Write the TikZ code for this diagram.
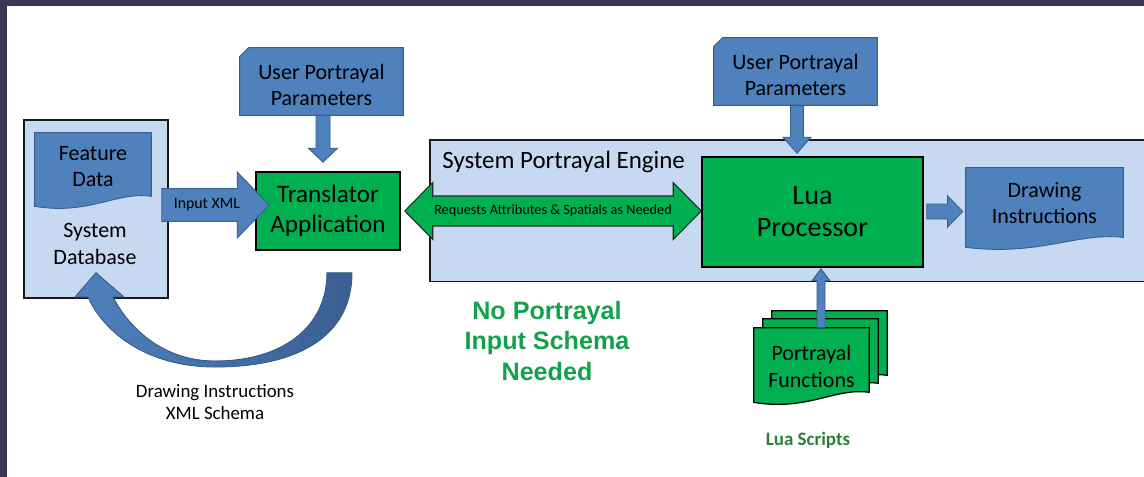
\documentclass[tikz,border=0pt]{standalone}
\usepackage{fontspec}
\setmainfont{Carlito}
\newfontfamily\arialfont{Liberation Sans}
\usetikzlibrary{calc}

\definecolor{frame}{HTML}{3B3656}
\definecolor{paleblue}{HTML}{C6D9F1}
\definecolor{midblue}{HTML}{4F81BD}
\definecolor{edgeblue}{HTML}{385D8A}
\definecolor{deepblue}{HTML}{3A5F92}
\definecolor{boxgreen}{HTML}{00B050}
\definecolor{textgreen}{HTML}{12A24A}
\definecolor{scriptgreen}{HTML}{2A8238}

\pgfdeclarelayer{canvas}
\pgfdeclarelayer{containers}
\pgfdeclarelayer{docs}
\pgfsetlayers{canvas,containers,docs,main}

% straight block arrow: #2 tail, #3 tip, #4 half shaft, #5 half head, #6 head length
\newcommand\blockarrow[6][]{%
  \coordinate (ba-h) at ($(#3)!#6!(#2)$);
  \filldraw[#1] ($(#2)!#4!90:(#3)$) -- ($(ba-h)!#4!-90:(#2)$) -- ($(ba-h)!#5!-90:(#2)$)
    -- (#3) -- ($(ba-h)!#5!90:(#2)$) -- ($(ba-h)!#4!90:(#2)$) -- ($(#2)!#4!-90:(#3)$) -- cycle;}

% block arrow with a head at both ends
\newcommand\dblarrow[6][]{%
  \coordinate (da-h1) at ($(#2)!#6!(#3)$);
  \coordinate (da-h2) at ($(#3)!#6!(#2)$);
  \filldraw[#1] (#2) -- ($(da-h1)!#5!90:(#3)$) -- ($(da-h1)!#4!90:(#3)$)
    -- ($(da-h2)!#4!-90:(#2)$) -- ($(da-h2)!#5!-90:(#2)$) -- (#3)
    -- ($(da-h2)!#5!90:(#2)$) -- ($(da-h2)!#4!90:(#2)$)
    -- ($(da-h1)!#4!-90:(#3)$) -- ($(da-h1)!#5!-90:(#3)$) -- cycle;}

% document outline with a wavy bottom round node #2; #3 lifts the right end, #4 shifts it
\newcommand\docoutline[4][]{%
  \filldraw[#1] ($(#2.north west)+#4$) -- ($(#2.north east)+#4$) -- ($(#2.south east)+(0,#3)+#4$)
    .. controls ($(#2.south west)!0.7!(#2.south east)+(0,#3-5)+#4$)
    and ($(#2.south west)!0.47!(#2.south east)+(0,#3+19)+#4$)
    .. ($(#2.south west)+(0,#3+10)+#4$) -- cycle;}

% card outline with a clipped top-left corner, raised by #3 above node #2
\newcommand\cardoutline[3][]{%
  \filldraw[#1] ($(#2.north west)+(0,9-#3)$) -- ($(#2.north west)+(9,-#3)$) -- ($(#2.north east)+(0,-#3)$)
    -- ($(#2.south east)+(0,-#3)$) -- ($(#2.south west)+(0,-#3)$) -- cycle;}

\begin{document}
\begin{tikzpicture}[x=0.02cm, y=-0.02cm,
  container/.style={draw=black!90, line width=0.9pt, fill=paleblue, inner sep=0pt},
  greenbox/.style={draw=black, line width=0.9pt, fill=boxgreen, align=center, inner sep=0pt},
  txt/.style={align=center, inner sep=0pt},
  bodyfont/.style={font=\fontsize{12.5}{15.2}\selectfont},
  bluefill/.style={fill=midblue, draw=edgeblue, line width=0.5pt},
  greenfill/.style={fill=boxgreen, draw=black, line width=0.7pt},
  bluearrow/.style={fill=midblue, draw=edgeblue, line width=0.5pt, line join=miter},
  greenarrow/.style={fill=boxgreen, draw=black!85, line width=0.6pt, line join=miter}]

\useasboundingbox (0,0) rectangle (1144,477);
\clip (0,0) rectangle (1144,477);
\begin{pgfonlayer}{canvas}
  \fill[white] (0,0) rectangle (1144,477);
  \fill[frame] (0,0) rectangle (1144,6);
  \fill[frame] (0,0) rectangle (7,477);
\end{pgfonlayer}

% containers
\begin{pgfonlayer}{containers}
  \node[container, minimum width=2.88cm, minimum height=3.56cm] (db) at (96,209) {};
  \node[container, minimum width=14.6cm, minimum height=2.83cm] (engine) at (795,210.75) {};
\end{pgfonlayer}

% text of the blue cards and documents
\node[txt, bodyfont, minimum width=2.32cm, minimum height=1.34cm] (fd) at (93,166.5) {Feature\\Data};
\node[txt, bodyfont] (dbl) at (95,244) {System\\Database};
\node[txt, bodyfont, minimum width=3.26cm, minimum height=1.34cm] (uppL) at (321.5,85) {User Portrayal\\Parameters};
\node[txt, bodyfont, minimum width=3.26cm, minimum height=1.34cm] (uppR) at (795.5,75) {User Portrayal\\Parameters};
\node[txt, bodyfont, minimum width=3.14cm, minimum height=1.4cm] (di) at (1044.5,203) {Drawing\\Instructions};
\node[txt, bodyfont, minimum width=2.3cm, minimum height=1.54cm] (pf) at (811.5,366.5) {Portrayal\\Functions};

\begin{pgfonlayer}{docs}
  \docoutline[bluefill]{fd}{-4}{(0,0)}
  \docoutline[bluefill]{di}{-1}{(0,0)}
  \docoutline[greenfill]{pf}{-13}{(18,-17)}
  \docoutline[greenfill]{pf}{-13}{(9,-9)}
  \docoutline[greenfill]{pf}{-13}{(0,0)}
  \cardoutline[bluefill]{uppL}{3.5}
  \cardoutline[bluefill]{uppR}{3.5}
\end{pgfonlayer}

% processing boxes
\node[greenbox, minimum width=2.88cm, minimum height=1.56cm,
  font=\fontsize{14.3}{17}\selectfont] (trans) at (328,211) {Translator\\Application};
\node[greenbox, minimum width=4.42cm, minimum height=2.2cm,
  font=\fontsize{16}{18.2}\selectfont] (lua) at (812.5,212) {Lua\\Processor};

\node[anchor=west, inner sep=0pt, font=\fontsize{14.2}{17}\selectfont] (engt) at (442,162) {System Portrayal Engine};

% connectors
\coordinate (ix-a) at ($(db.east)+(-7,-4)$);
\coordinate (ix-b) at ($(trans.west)+(14,-6)$);
\blockarrow[bluearrow]{ix-a}{ix-b}{0.33cm}{0.66cm}{0.64cm}
\node[inner sep=0pt, font=\fontsize{9}{11}\selectfont] (ixl) at ($(ix-a)!0.42!(ix-b)$) {Input XML};

\coordinate (ul-a) at ($(uppL.south)+(1.5,-3.5)$);
\coordinate (ul-b) at ($(trans.north)+(-5,-9)$);
\blockarrow[bluearrow]{ul-a}{ul-b}{0.14cm}{0.29cm}{0.28cm}

\coordinate (ur-a) at ($(uppR.south)+(1.5,-3.5)$);
\coordinate (ur-b) at ($(lua.north)+(-15.5,-3)$);
\blockarrow[bluearrow]{ur-a}{ur-b}{0.13cm}{0.28cm}{0.32cm}

\coordinate (ld-a) at ($(lua.east)+(3,-0.5)$);
\coordinate (ld-b) at ($(di.west)+(-3,8.5)$);
\blockarrow[bluearrow]{ld-a}{ld-b}{0.15cm}{0.31cm}{0.3cm}

\coordinate (pl-a) at ($(pf.north)+(9.5,0)$);
\coordinate (pl-b) at ($(lua.south)+(8.5,1)$);
\blockarrow[bluearrow]{pl-a}{pl-b}{0.08cm}{0.18cm}{0.24cm}

\coordinate (rq-a) at ($(trans.east)+(4,0)$);
\coordinate (rq-b) at ($(lua.west)+(0,-1)$);
\dblarrow[greenarrow]{rq-a}{rq-b}{0.3cm}{0.57cm}{0.56cm}
\node[inner sep=0pt, font=\fontsize{8.1}{10}\selectfont] (rql) at ($(rq-a)!0.5!(rq-b)$)
  {Requests Attributes \& Spatials as Needed};

% curved return arrow from the translator back to the database
\coordinate (cv-s) at ($(trans.south)+(11.5,22)$);
\coordinate (cv-t) at ($(db.south)+(0,-26)$);
\filldraw[left color=midblue, right color=deepblue, draw=edgeblue, line width=0.5pt]
  ($(cv-s)+(12.5,0)$) .. controls (352,335) and (300,367) .. (215,367)
  .. controls (150,367) and (105,335) .. (88,297) -- (75,297) -- (cv-t) -- (124,297) -- (113,297)
  .. controls (130,330) and (165,361) .. (215,361)
  .. controls (285,361) and (327,325) .. ($(cv-s)+(-12.5,0)$) -- cycle;

% free labels
\node[txt, font=\fontsize{10.75}{12}\selectfont] (dixl) at (215,402) {Drawing Instructions\\XML Schema};
\node[txt, text=textgreen, font=\arialfont\bfseries\fontsize{14.3}{17.4}\selectfont] (nopi) at (547,341)
  {No Portrayal\\Input Schema\\Needed};
\node[inner sep=0pt, text=scriptgreen, font=\bfseries\fontsize{10.8}{13}\selectfont] (lsc) at (808,440) {Lua Scripts};

\end{tikzpicture}
\end{document}
